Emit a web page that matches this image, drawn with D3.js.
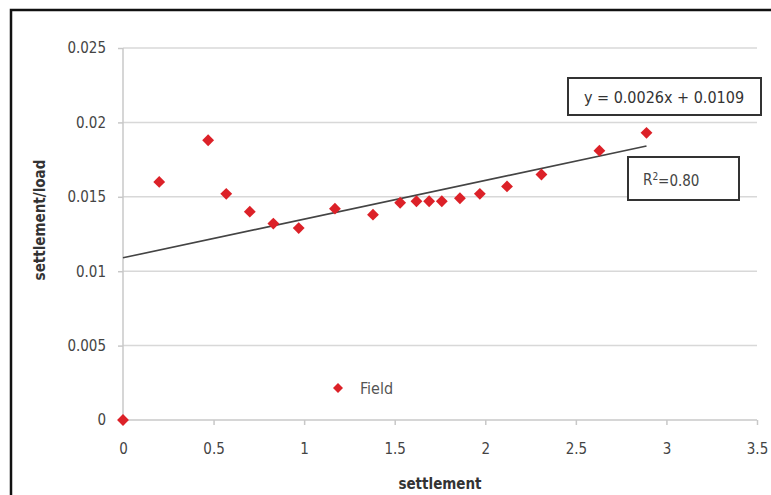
<!DOCTYPE html>
<html>
<head>
<meta charset="utf-8">
<script src="https://cdn.jsdelivr.net/npm/d3@7"></script>
<style>
  body { margin: 0; background: #fff; }
  svg { display: block; }
  text { font-family: "Liberation Sans Narrow", "DejaVu Sans Condensed", "Open Sans", sans-serif; }
</style>
</head>
<body>
<div id="chart"></div>
<script>
// values
const settlement = [0, 0.20, 0.47, 0.57, 0.70, 0.83, 0.97, 1.17, 1.38, 1.53, 1.62, 1.69, 1.76, 1.86, 1.97, 2.12, 2.31, 2.63, 2.89]
const ratio = [0, 0.0160, 0.0188, 0.0152, 0.0140, 0.0132, 0.0129, 0.0142, 0.0138, 0.0146, 0.0147, 0.0147, 0.0147, 0.0149, 0.0152, 0.0157, 0.0165, 0.0181, 0.0193]
const xTicks = [0, 0.5, 1, 1.5, 2, 2.5, 3, 3.5]
const yTicks = [0, 0.005, 0.01, 0.015, 0.02, 0.025]
const slope = 0.0026, intercept = 0.0109

const width = 771, height = 495
const data = settlement.map((s, i) => ({ x: s, y: ratio[i] }))

const x = d3.scaleLinear().domain([0, 3.5]).range([123, 757])
const y = d3.scaleLinear().domain([0, 0.025]).range([420, 48])

const svg = d3.select("#chart").append("svg")
   .attr("width", width)
   .attr("height", height)

// outer frame (left + top only visible)
svg.append("rect")
   .attr("x", 11).attr("y", 10)
   .attr("width", width + 20).attr("height", height + 20)
   .attr("fill", "none")
   .attr("stroke", "#111")
   .attr("stroke-width", 2.5)

// horizontal gridlines
svg.append("g")
   .selectAll("line")
   .data(yTicks.filter(d => d > 0))
   .join("line")
   .attr("x1", x(0)).attr("x2", x(3.5))
   .attr("y1", d => y(d)).attr("y2", d => y(d))
   .attr("stroke", "#d8d8d8")
   .attr("stroke-width", 1.5)

// y axis
const yAxis = g => g
   .attr("transform", `translate(${x(0)},0)`)
   .call(d3.axisLeft(y).tickValues(yTicks).tickFormat(d => d3.format("")(+d.toFixed(3))).tickSize(5).tickPadding(12))
   .call(g => g.select(".domain").attr("stroke", "#c8c8c8").attr("stroke-width", 1.5).attr("d", `M0,${y(0)}V${y(0.025)}`))
   .call(g => g.selectAll(".tick line").attr("stroke", "#c8c8c8").attr("stroke-width", 1.5))
   .call(g => g.selectAll(".tick text").attr("fill", "#444").attr("font-size", 15))

// x axis
const xAxis = g => g
   .attr("transform", `translate(0,${y(0)})`)
   .call(d3.axisBottom(x).tickValues(xTicks).tickFormat(d3.format("")).tickSize(5).tickPadding(18))
   .call(g => g.select(".domain").attr("stroke", "#c8c8c8").attr("stroke-width", 1.5).attr("d", `M${x(0)},0H${x(3.5)}`))
   .call(g => g.selectAll(".tick line").attr("stroke", "#c8c8c8").attr("stroke-width", 1.5))
   .call(g => g.selectAll(".tick text").attr("fill", "#444").attr("font-size", 15))

svg.append("g").call(yAxis)
svg.append("g").call(xAxis)

// trendline
const xMax = d3.max(settlement)
svg.append("line")
   .attr("x1", x(0)).attr("y1", y(intercept))
   .attr("x2", x(xMax)).attr("y2", y(intercept + slope * xMax))
   .attr("stroke", "#444")
   .attr("stroke-width", 1.6)

// points
const diamond = d3.symbol().type(d3.symbolSquare).size(70)
svg.append("g")
   .attr("fill", "#dc2128")
   .selectAll("path")
   .data(data)
   .join("path")
   .attr("d", diamond)
   .attr("transform", d => `translate(${x(d.x)},${y(d.y)}) rotate(45)`)

// equation box
svg.append("rect")
   .attr("x", 568).attr("y", 78).attr("width", 193).attr("height", 37)
   .attr("fill", "#fff").attr("stroke", "#333").attr("stroke-width", 2)
svg.append("text")
   .attr("x", 664).attr("y", 97).attr("dy", "0.35em")
   .attr("text-anchor", "middle")
   .attr("font-size", 16).attr("fill", "#333")
   .text(`y = ${slope}x + ${intercept}`)

// R² box
svg.append("rect")
   .attr("x", 628).attr("y", 157).attr("width", 111).attr("height", 43)
   .attr("fill", "#fff").attr("stroke", "#333").attr("stroke-width", 2)
const r2 = svg.append("text")
   .attr("x", 643).attr("y", 180).attr("dy", "0.35em")
   .attr("font-size", 15).attr("fill", "#444")
r2.append("tspan").text("R")
r2.append("tspan").attr("font-size", 10).attr("dy", "-0.5em").text("2")
r2.append("tspan").attr("dy", "0.35em").text("=0.80")

// legend
svg.append("path")
   .attr("d", d3.symbol().type(d3.symbolSquare).size(50))
   .attr("transform", "translate(338,388) rotate(45)")
   .attr("fill", "#dc2128")
svg.append("text")
   .attr("x", 360).attr("y", 388).attr("dy", "0.35em")
   .attr("font-size", 16).attr("fill", "#555")
   .text("Field")

// axis titles
svg.append("text")
   .attr("x", 440).attr("y", 489)
   .attr("text-anchor", "middle")
   .attr("font-size", 15).attr("font-weight", "bold").attr("fill", "#333")
   .text("settlement")
svg.append("text")
   .attr("transform", "translate(40,220) rotate(-90)")
   .attr("dy", "0.35em")
   .attr("text-anchor", "middle")
   .attr("font-size", 15).attr("font-weight", "bold").attr("fill", "#333")
   .text("settlement/load")
</script>
</body>
</html>
